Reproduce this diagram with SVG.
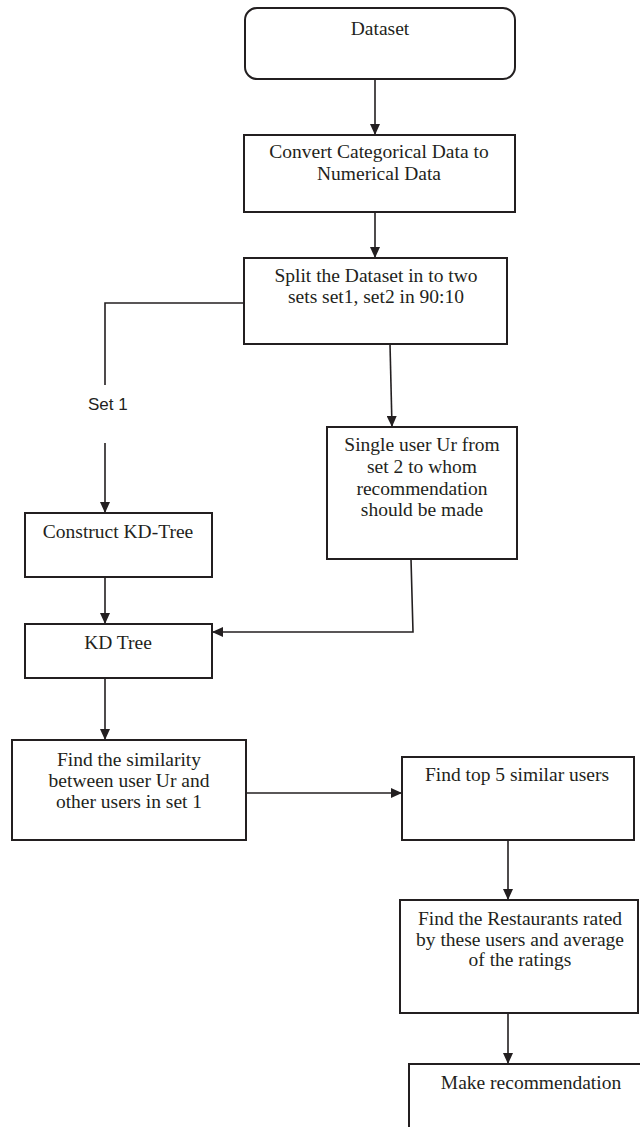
<svg xmlns="http://www.w3.org/2000/svg" width="640" height="1127" viewBox="0 0 640 1127">
<style>
.box{fill:#fff;stroke:#231f20;stroke-width:2}
.t{font-family:"Liberation Serif","Times New Roman",serif;font-size:19.5px;fill:#231f20;text-anchor:middle}
.s{font-family:"Liberation Sans",Arial,sans-serif;font-size:17px;fill:#231f20}
.c{fill:none;stroke:#231f20;stroke-width:1.6}
</style>
<defs>
<marker id="ah" markerUnits="userSpaceOnUse" markerWidth="12" markerHeight="10" refX="11" refY="5" orient="auto">
<path d="M0,0 L11,5 L0,10 z" fill="#231f20"/>
</marker>
</defs>
<rect width="640" height="1127" fill="#fff"/>
<g id="connectors">
<path class="c" d="M375,79 L375,135" marker-end="url(#ah)"/>
<path class="c" d="M375,212 L375,258" marker-end="url(#ah)"/>
<path class="c" d="M244,303 L105,303 L105,385"/>
<path class="c" d="M105,443 L105,513" marker-end="url(#ah)"/>
<path class="c" d="M390,344 L392,427" marker-end="url(#ah)"/>
<path class="c" d="M105,577 L105,624" marker-end="url(#ah)"/>
<path class="c" d="M411,559 L413,632 L212,632" marker-end="url(#ah)"/>
<path class="c" d="M105,678 L105,740" marker-end="url(#ah)"/>
<path class="c" d="M246,793 L402,793" marker-end="url(#ah)"/>
<path class="c" d="M508,840 L508,900" marker-end="url(#ah)"/>
<path class="c" d="M508,1013 L508,1064" marker-end="url(#ah)"/>
</g>
<g id="set1-label"><text class="s" x="88" y="410">Set 1</text></g>
<g id="dataset">
<rect class="box" x="245" y="8" width="270" height="71" rx="12"/>
<text class="t" x="380" y="35">Dataset</text>
</g>
<g id="convert">
<rect class="box" x="244" y="135" width="271" height="77"/>
<text class="t" x="379" y="158">Convert Categorical Data to</text>
<text class="t" x="379" y="180">Numerical Data</text>
</g>
<g id="split">
<rect class="box" x="244" y="258" width="263" height="86"/>
<text class="t" x="376" y="282">Split the Dataset in to two</text>
<text class="t" x="376" y="303">sets set1, set2 in 90:10</text>
</g>
<g id="single-user">
<rect class="box" x="327" y="427" width="190" height="132"/>
<text class="t" x="422" y="451">Single user Ur from</text>
<text class="t" x="422" y="473">set 2 to whom</text>
<text class="t" x="422" y="495">recommendation</text>
<text class="t" x="422" y="516">should be made</text>
</g>
<g id="construct-kd">
<rect class="box" x="25" y="513" width="187" height="64"/>
<text class="t" x="118" y="538">Construct KD-Tree</text>
</g>
<g id="kd-tree">
<rect class="box" x="25" y="624" width="187" height="54"/>
<text class="t" x="118" y="649">KD Tree</text>
</g>
<g id="similarity">
<rect class="box" x="12" y="740" width="234" height="100"/>
<text class="t" x="129" y="766">Find the similarity</text>
<text class="t" x="129" y="787">between user Ur and</text>
<text class="t" x="129" y="808">other users in set 1</text>
</g>
<g id="top5">
<rect class="box" x="402" y="757" width="232" height="83"/>
<text class="t" x="517" y="781">Find top 5 similar users</text>
</g>
<g id="restaurants">
<rect class="box" x="400" y="900" width="238" height="113"/>
<text class="t" x="520" y="925">Find the Restaurants rated</text>
<text class="t" x="520" y="946">by these users and average</text>
<text class="t" x="520" y="966">of the ratings</text>
</g>
<g id="make-recommendation">
<rect class="box" x="409" y="1064" width="240" height="100"/>
<text class="t" x="531" y="1089">Make recommendation</text>
</g>
</svg>
